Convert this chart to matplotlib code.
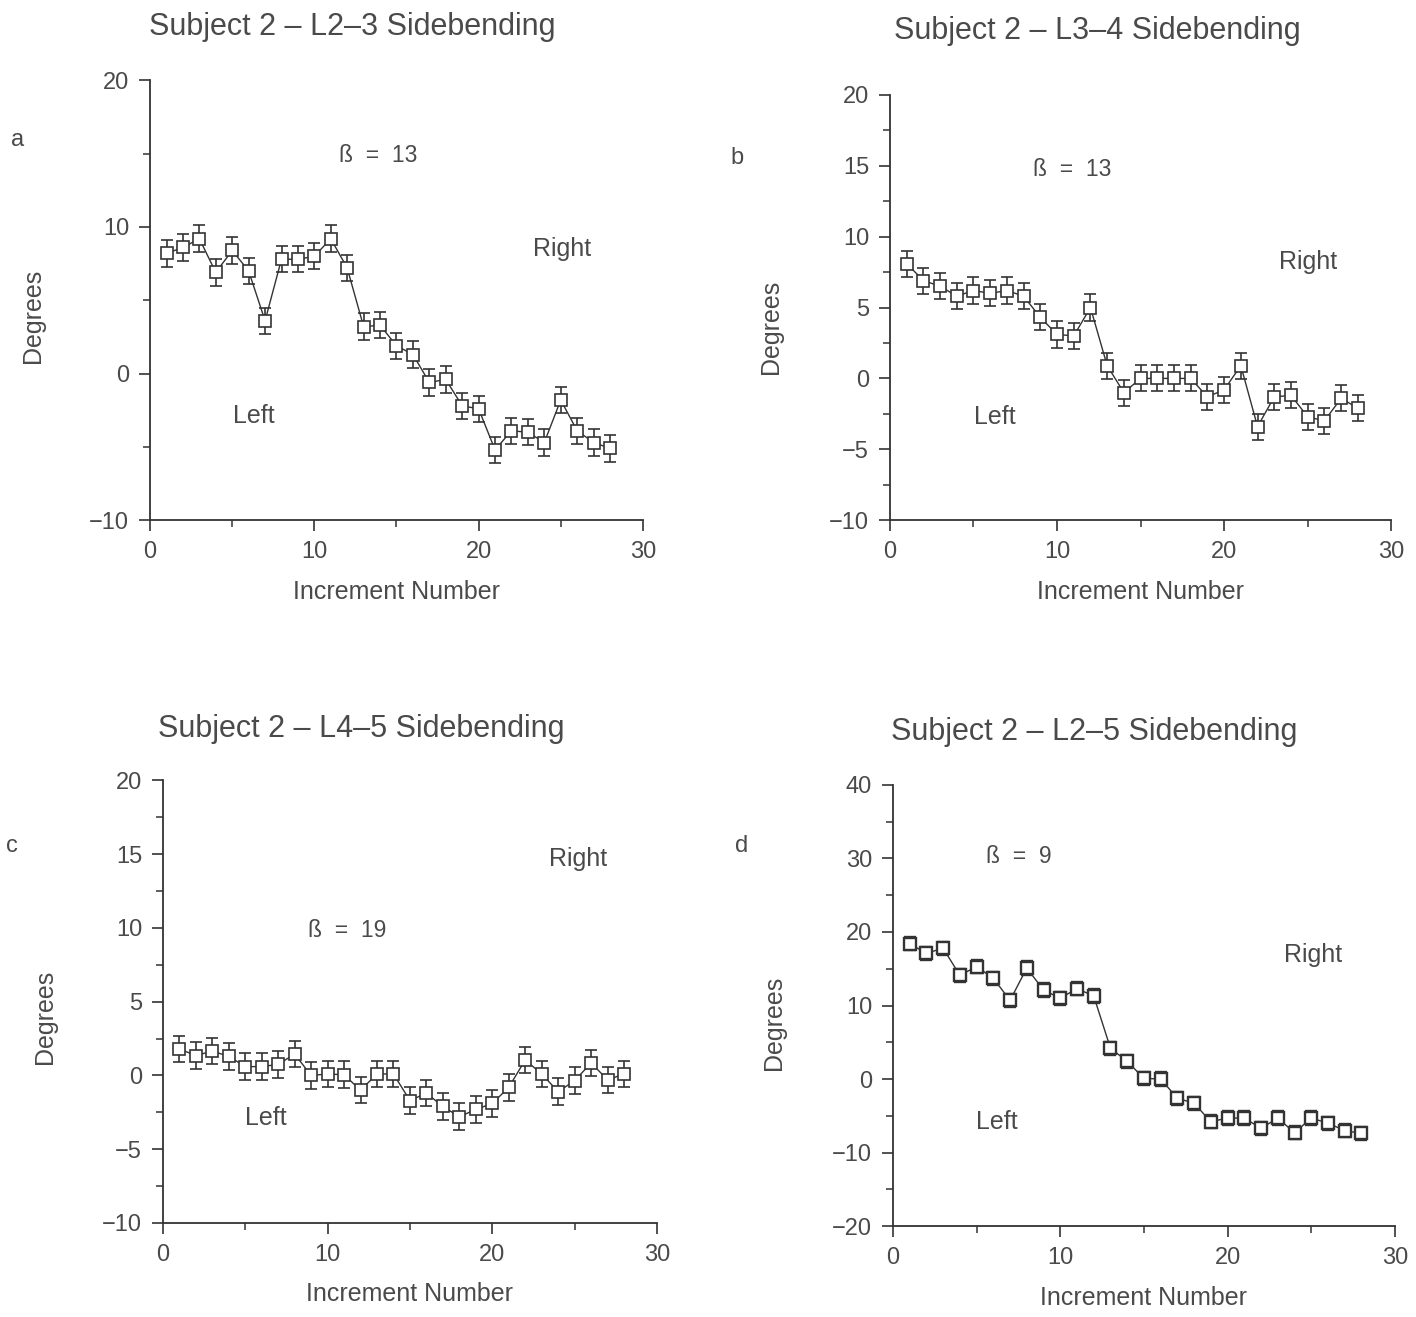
import numpy as np
import matplotlib
matplotlib.use('Agg')
import matplotlib.pyplot as plt
from matplotlib.ticker import MultipleLocator

plt.rcParams['font.family'] = ['Liberation Sans', 'DejaVu Sans']

ink = '#333333'
txt = '#4a4a4a'

increments = np.arange(1, 29)

# a - L2-3
deg_a = [8.2, 8.6, 9.2, 6.9, 8.4, 7.0, 3.6, 7.8, 7.8, 8.0, 9.2, 7.2, 3.2, 3.3,
         1.9, 1.3, -0.6, -0.4, -2.2, -2.4, -5.2, -3.9, -4.0, -4.7, -1.8, -3.9, -4.7, -5.1]
# b - L3-4
deg_b = [8.1, 6.9, 6.5, 5.8, 6.2, 6.0, 6.2, 5.8, 4.3, 3.1, 3.0, 5.0, 0.9, -1.0,
         0.0, 0.0, 0.0, 0.0, -1.3, -0.8, 0.9, -3.4, -1.3, -1.2, -2.7, -3.0, -1.4, -2.1]
# c - L4-5
deg_c = [1.8, 1.35, 1.65, 1.3, 0.6, 0.6, 0.75, 1.45, 0.0, 0.1, 0.05, -1.0, 0.1, 0.1,
         -1.7, -1.2, -2.1, -2.8, -2.3, -1.9, -0.8, 1.05, 0.1, -1.1, -0.35, 0.85, -0.3, 0.1]
# d - L2-5
deg_d = [18.4, 17.1, 17.8, 14.1, 15.3, 13.7, 10.7, 15.1, 12.1, 11.0, 12.3, 11.3, 4.2, 2.4,
         0.1, 0.0, -2.6, -3.3, -5.8, -5.3, -5.3, -6.7, -5.3, -7.3, -5.3, -6.0, -7.0, -7.4]

err_a = 0.9
err_b = 0.92
err_c = 0.9
err_d = 0.9

titles = ['Subject 2 \u2013 L2\u20133 Sidebending', 'Subject 2 \u2013 L3\u20134 Sidebending',
          'Subject 2 \u2013 L4\u20135 Sidebending', 'Subject 2 \u2013 L2\u20135 Sidebending']
betas = ['\u00df  =  13', '\u00df  =  13', '\u00df  =  19', '\u00df  =  9']
letters = ['a', 'b', 'c', 'd']

fig = plt.figure(figsize=(14.16, 13.17), dpi=100)

# axes rects (x 0..30, y range)
rects = [[0.106, 0.605, 0.348, 0.334],
         [0.6285, 0.605, 0.354, 0.323],
         [0.115, 0.0714, 0.349, 0.336],
         [0.6306, 0.069, 0.3545, 0.335]]
ylims = [(-10, 20), (-10, 20), (-10, 20), (-20, 40)]
ymaj = [10, 5, 5, 10]
ymin = [5, 2.5, 2.5, 5]
series = [deg_a, deg_b, deg_c, deg_d]
errs = [err_a, err_b, err_c, err_d]

# text positions in data coords: beta, Right, Left
beta_pos = [(13.9, 14.9), (10.9, 14.7), (11.2, 9.8), (7.5, 30.3)]
right_pos = [(25.1, 8.5), (25.0, 8.2), (25.2, 14.7), (25.1, 16.9)]
left_pos = [(6.3, -2.9), (6.3, -2.75), (6.25, -2.9), (6.2, -5.9)]

title_pos = [(0.2486, 0.9795), (0.7747, 0.9765), (0.255, 0.4465), (0.773, 0.444)]
letter_pos = [(0.0127, 0.894), (0.5205, 0.880), (0.0085, 0.358), (0.524, 0.358)]
ylab_y = [0.465, 0.455, 0.465, 0.46]

for i in range(4):
    ax = fig.add_axes(rects[i])
    ax.errorbar(increments, series[i], yerr=errs[i], fmt='-', color=ink, lw=1.0,
                elinewidth=1.2, capsize=4, capthick=1.4, marker='s', ms=8,
                mfc='white', mec=ink, mew=1.2 if i < 3 else 1.7)
    ax.set_xlim(0, 30)
    ax.set_ylim(*ylims[i])
    ax.xaxis.set_major_locator(MultipleLocator(10))
    ax.xaxis.set_minor_locator(MultipleLocator(5))
    ax.yaxis.set_major_locator(MultipleLocator(ymaj[i]))
    ax.yaxis.set_minor_locator(MultipleLocator(ymin[i]))
    for s in ['top', 'right']:
        ax.spines[s].set_visible(False)
    for s in ['left', 'bottom']:
        ax.spines[s].set_color(ink)
        ax.spines[s].set_linewidth(1.3)
    ax.tick_params(which='major', length=8, width=1.2, color=ink, labelsize=17,
                   labelcolor=txt, pad=7)
    ax.tick_params(which='minor', length=5, width=1.1, color=ink)
    ax.set_xlabel('Increment Number', fontsize=18, color=txt, labelpad=12)
    ax.set_ylabel('Degrees', fontsize=18, color=txt)
    ax.yaxis.set_label_coords(-0.214, ylab_y[i])
    ax.patch.set_alpha(0)

    ax.text(*beta_pos[i], betas[i], fontsize=16.5, color=txt, ha='center', va='center')
    ax.text(*right_pos[i], 'Right', fontsize=18, color=txt, ha='center', va='center')
    ax.text(*left_pos[i], 'Left', fontsize=18, color=txt, ha='center', va='center')

    fig.text(*title_pos[i], titles[i], fontsize=22, color=txt, ha='center', va='center')
    fig.text(*letter_pos[i], letters[i], fontsize=17, color=txt, ha='center', va='center')

plt.savefig('out.png', dpi=100)
